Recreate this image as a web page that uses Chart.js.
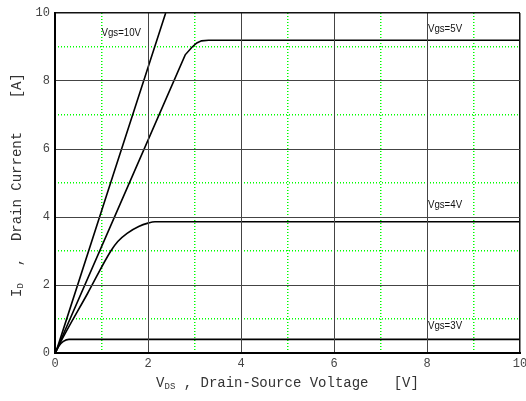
<!DOCTYPE html>
<html>
<head>
<meta charset="utf-8">
<script src="https://cdn.jsdelivr.net/npm/chart.js@4.4.1/dist/chart.umd.min.js"></script>
<style>
  html, body { margin: 0; padding: 0; background: #fff; overflow: hidden; }
  #wrap { width: 526px; height: 401px; position: relative; }
</style>
</head>
<body>
<div id="wrap"><canvas id="chart"></canvas></div>
<script>
// Output characteristics: I_D vs V_DS for several gate voltages
const vds10 = [0, 0.04, 0.09, 1.2, 2.38];
const id10  = [0, 0.12, 0.32, 5.02, 10.0];

const vds5 = [0, 0.04, 0.1, 1.4, 2.8, 2.95, 3.05, 3.15, 3.3, 10];
const id5  = [0, 0.1, 0.3, 4.38, 8.77, 9.0, 9.12, 9.18, 9.2, 9.2];

const vds4 = [0, 0.04, 0.1, 0.7, 1.2, 1.35, 1.55, 1.8, 2.0, 2.15, 10];
const id4  = [0, 0.1, 0.27, 1.75, 3.0, 3.28, 3.52, 3.72, 3.82, 3.86, 3.86];

const vds3 = [0, 0.08, 0.18, 0.3, 0.5, 10];
const id3  = [0, 0.2, 0.34, 0.4, 0.4, 0.4];

const majorTicks = [0, 2, 4, 6, 8, 10];
const minorTicks = [1, 3, 5, 7, 9];

const seriesNames = ['Vgs=10V', 'Vgs=5V', 'Vgs=4V', 'Vgs=3V'];

function toPoints(xs, ys) {
  return xs.map((x, i) => ({ x: x, y: ys[i] }));
}

// where each curve name is written, in axis units
const nameAnchors = [
  { x: 1.0, y: 9.4 },
  { x: 8.02, y: 9.53 },
  { x: 8.02, y: 4.35 },
  { x: 8.02, y: 0.79 }
];

const monoFont = '"Liberation Mono", "Courier New", monospace';

const curveNames = {
  id: 'curveNames',
  afterDatasetsDraw(chart) {
    const { ctx, scales } = chart;
    ctx.save();
    ctx.fillStyle = '#111';
    ctx.font = '11px "Liberation Sans", Arial, sans-serif';
    ctx.textBaseline = 'middle';
    ctx.textAlign = 'left';
    seriesNames.forEach((name, i) => {
      const px = scales.x.getPixelForValue(nameAnchors[i].x);
      const py = scales.y.getPixelForValue(nameAnchors[i].y);
      ctx.save();
      ctx.translate(px, py);
      ctx.scale(0.88, 1);
      ctx.fillText(name, 0, 0);
      ctx.restore();
    });
    ctx.restore();
  }
};

// axis titles with subscripts
function drawSubText(ctx, parts, x, y) {
  let total = 0;
  parts.forEach(p => {
    ctx.font = (p[1] ? '9px ' : '14px ') + monoFont;
    total += ctx.measureText(p[0]).width;
  });
  let cx = x - total / 2;
  parts.forEach(p => {
    ctx.font = (p[1] ? '9px ' : '14px ') + monoFont;
    ctx.fillText(p[0], cx, y + (p[1] ? 4 : 0));
    cx += ctx.measureText(p[0]).width;
  });
}

const axisTitles = {
  id: 'axisTitles',
  afterDraw(chart) {
    const { ctx, chartArea } = chart;
    ctx.save();
    ctx.fillStyle = '#333';
    ctx.textBaseline = 'middle';
    ctx.textAlign = 'left';
    const cx = (chartArea.left + chartArea.right) / 2;
    drawSubText(ctx, [['V', false], ['DS', true], [' , Drain-Source Voltage   [V]', false]], cx, 383);

    const cy = (chartArea.top + chartArea.bottom) / 2 + 2;
    ctx.translate(17, cy);
    ctx.rotate(-Math.PI / 2);
    drawSubText(ctx, [['I', false], ['D', true], ['  ,  Drain Current    [A]', false]], 0, 0);
    ctx.restore();
  }
};

const lineStyle = {
  borderColor: '#000',
  borderWidth: 1.6,
  pointRadius: 0,
  showLine: true,
  fill: false
};

const setTicks = list => s => { s.ticks = list.map(v => ({ value: v })); };
const majorColor = ctx => (ctx.tick && ctx.tick.value === 10) ? '#111' : '#444';
const majorWidth = ctx => (ctx.tick && ctx.tick.value === 10) ? 1.5 : 1;

const minorScale = (axis, position) => ({
  type: 'linear',
  axis: axis,
  position: position,
  min: 0,
  max: 10,
  afterBuildTicks: setTicks(minorTicks),
  ticks: { display: false },
  grid: { color: '#00ff00', lineWidth: 1.5, drawTicks: false },
  border: { display: false, dash: [1, 2] },
  afterFit(s) { if (axis === 'x') { s.height = 0; } else { s.width = 0; } s.paddingLeft = 0; s.paddingRight = 0; s.paddingTop = 0; s.paddingBottom = 0; }
});

new Chart(document.getElementById('chart'), {
  type: 'scatter',
  data: {
    datasets: [
      Object.assign({ label: seriesNames[0], data: toPoints(vds10, id10), tension: 0 }, lineStyle),
      Object.assign({ label: seriesNames[1], data: toPoints(vds5, id5), tension: 0 }, lineStyle),
      Object.assign({ label: seriesNames[2], data: toPoints(vds4, id4), cubicInterpolationMode: 'monotone' }, lineStyle),
      Object.assign({ label: seriesNames[3], data: toPoints(vds3, id3), cubicInterpolationMode: 'monotone' }, lineStyle)
    ]
  },
  options: {
    responsive: true,
    maintainAspectRatio: false,
    animation: false,
    layout: { padding: { top: 13, right: 6, left: 0, bottom: 0 } },
    plugins: { legend: { display: false }, tooltip: { enabled: false } },
    scales: {
      xMinor: minorScale('x', 'bottom'),
      yMinor: minorScale('y', 'left'),
      x: {
        type: 'linear',
        position: 'bottom',
        min: 0,
        max: 10,
        afterBuildTicks: setTicks(majorTicks),
        ticks: {
          padding: 4,
          color: '#444',
          font: { family: monoFont, size: 12 },
          maxRotation: 0,
          autoSkip: false
        },
        grid: { color: majorColor, lineWidth: majorWidth, drawTicks: false, z: 1 },
        border: { color: '#000', width: 2, z: 2 },
        afterFit(s) { s.height = 48; s.paddingLeft = 0; s.paddingRight = 0; }
      },
      y: {
        type: 'linear',
        position: 'left',
        min: 0,
        max: 10,
        afterBuildTicks: setTicks(majorTicks),
        ticks: {
          padding: 5,
          color: '#444',
          font: { family: monoFont, size: 12 },
          autoSkip: false
        },
        grid: { color: majorColor, lineWidth: majorWidth, drawTicks: false, z: 1 },
        border: { color: '#000', width: 2, z: 2 },
        afterFit(s) { s.width = 55; }
      }
    }
  },
  plugins: [curveNames, axisTitles]
});
</script>
</body>
</html>
